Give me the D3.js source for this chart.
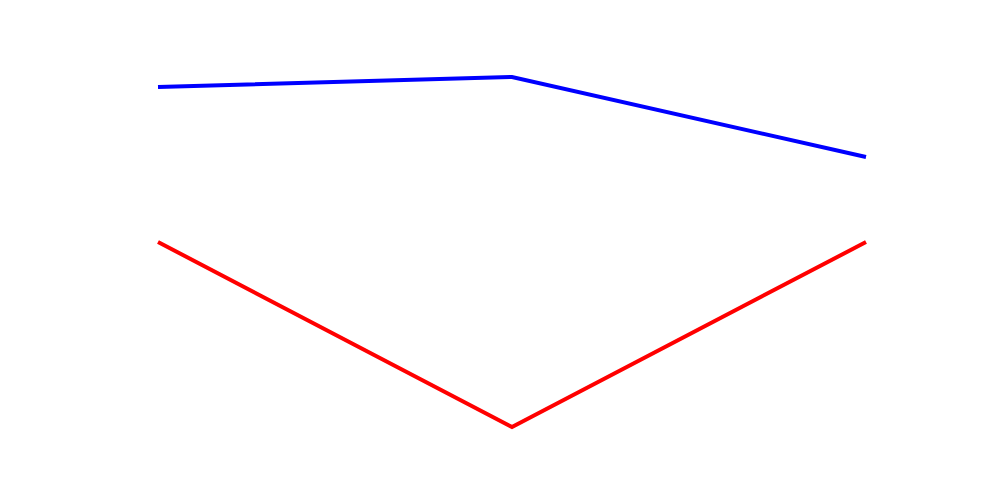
<!DOCTYPE html>
<html>
<head>
<meta charset="utf-8">
<script src="https://cdn.jsdelivr.net/npm/d3@7"></script>
<style>
  html, body { margin: 0; padding: 0; background: #fff; }
  svg { display: block; }
</style>
</head>
<body>
<script>
const categories = ["A", "B", "C"];
const blueValues = [82.6, 84.6, 68.6];
const redValues = [51.6, 14.6, 51.6];

const width = 1000, height = 500;
const svg = d3.select("body").append("svg")
  .attr("width", width).attr("height", height);

const x = d3.scalePoint().domain(categories).range([158, 866]);
const y = d3.scaleLinear().domain([0, 100]).range([500, 0]);

const line = d3.line()
  .x((d, i) => x(categories[i]))
  .y(d => y(d));

svg.append("path").datum(blueValues)
  .attr("d", line).attr("fill", "none")
  .attr("stroke", "blue").attr("stroke-width", 4);

svg.append("path").datum(redValues)
  .attr("d", line).attr("fill", "none")
  .attr("stroke", "red").attr("stroke-width", 4);
</script>
</body>
</html>
